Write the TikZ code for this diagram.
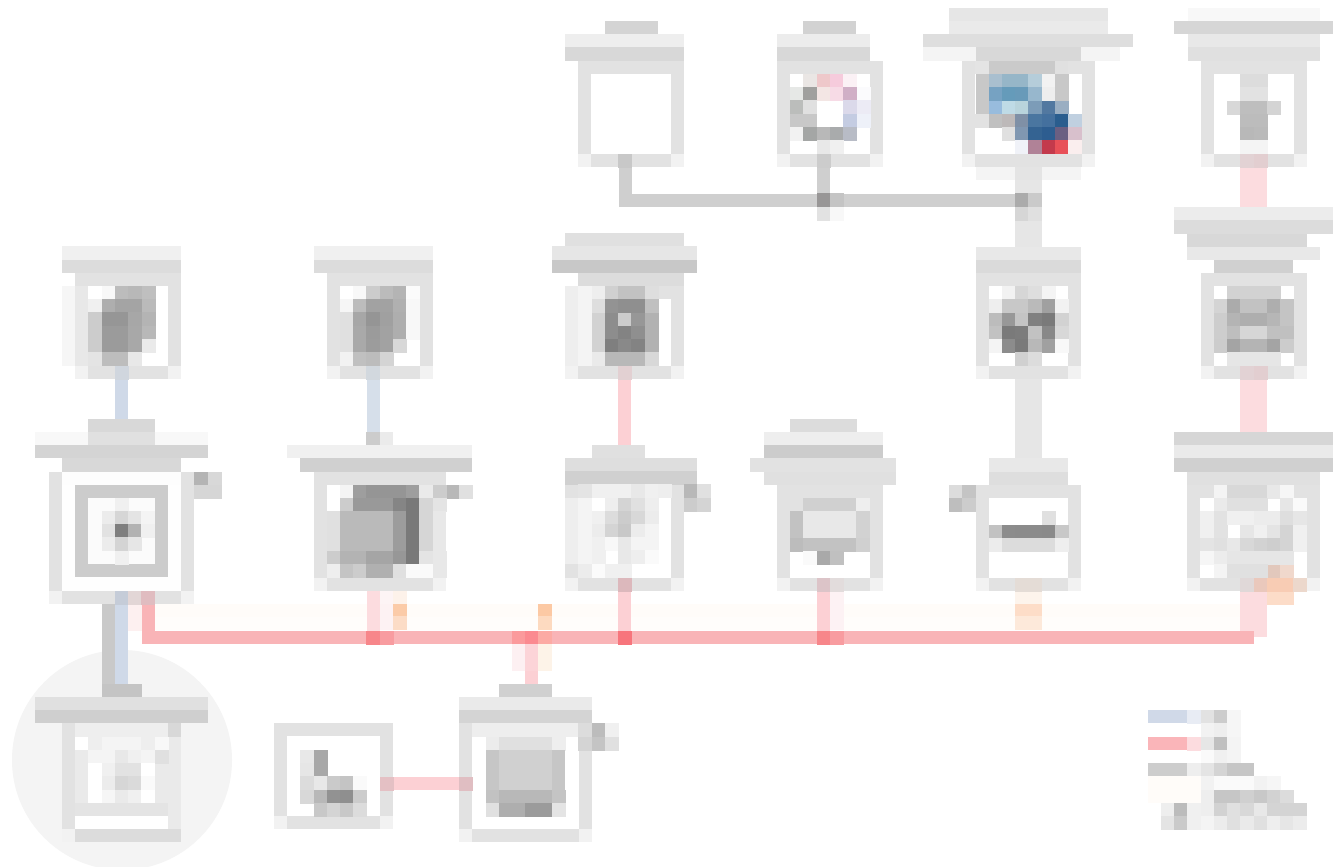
\documentclass[tikz,border=0pt]{standalone}
\usetikzlibrary{calc}
\definecolor{cardline}{HTML}{E2E2E2}
\definecolor{busred}{HTML}{F9B4B7}
\definecolor{softred}{HTML}{FCD0D4}
\definecolor{paleRed}{HTML}{FCDCDF}
\definecolor{busgray}{HTML}{CFCFCF}
\definecolor{palegray}{HTML}{E6E6E6}
\definecolor{softblue}{HTML}{CFD9E8}
\definecolor{paleblue}{HTML}{D6DFEA}
\definecolor{cornerc}{HTML}{F2F2F2}
\tikzset{
 cardbox/.style={draw=cardline,line width=9.75pt,inner sep=0pt,fill=none,rectangle},
 wire/.style={line width=9.75pt,line join=miter},
 widewire/.style={line width=19.75pt,line join=miter},
}
\newcommand{\gb}[5]{\definecolor{tc}{HTML}{#5#5#5}\fill[tc] (#1,#2) rectangle (#3,#4);}
\newcommand{\cb}[5]{\definecolor{tc}{HTML}{#5}\fill[tc] (#1,#2) rectangle (#3,#4);}
\newcommand{\dcg}[1]{\definecolor{tc}{HTML}{#1#1#1}}
\newcommand{\dcc}[1]{\definecolor{tc}{HTML}{#1}}
\newcommand{\rw}[2]{\foreach \xx/\vv in {#2}{\edef\tmpc{\noexpand\dcg{\vv}}\tmpc\fill[tc] (\xx,#1) rectangle +(13.6,14);}}
\newcommand{\rc}[2]{\foreach \xx/\vv in {#2}{\edef\tmpc{\noexpand\dcc{\vv}}\tmpc\fill[tc] (\xx,#1) rectangle +(13.6,14);}}
\newcommand{\card}[5]{%
 \pgfmathsetmacro{\cx}{(#2+#4)/2}\pgfmathsetmacro{\cy}{(#3+#5)/2}%
 \pgfmathsetmacro{\cw}{(#4-#2-13)*0.75}\pgfmathsetmacro{\ch}{(#5-#3-13)*0.75}%
 \node[cardbox,minimum width=\cw pt,minimum height=\ch pt] (#1) at (\cx,\cy) {};
 \fill[cornerc] (#2,#5) rectangle +(13.4,-13.2);
 \fill[cornerc] (#4,#5) rectangle +(-13.4,-13.2);}
\begin{document}
\begin{tikzpicture}[x=0.75pt,y=-0.75pt]
\useasboundingbox (0,0) rectangle (1338,867);
\fill[white] (0,0) rectangle (1338,867);
% halo
\fill[black!4.5] (122,760) circle (110);
% faint band
\cb{155}{604}{1240}{617}{FFFCF9}
\cb{155}{617}{1240}{630}{FFFDFB}
% cards
\card{Aa}{578}{61}{684}{167}
\card{Ab}{777}{61}{883}{167}
\card{Ac}{962}{61}{1095}{167}
\card{Ad}{1201}{61}{1307}{167}
\card{Ba}{75}{273}{181}{379}
\card{Bb}{327}{273}{433}{379}
\card{Bc}{565}{286}{684}{379}
\card{Bd}{976}{273}{1081}{379}
\card{Be}{1201}{273}{1307}{379}
\card{Ca}{49}{472}{194}{604}
\card{Cb}{314}{472}{446}{591}
\card{Cc}{565}{485}{684}{591}
\card{Cd}{777}{485}{883}{591}
\card{Ce}{976}{485}{1081}{591}
\card{Cf}{1187}{485}{1320}{591}
\card{Da}{62}{723}{194}{842}
\card{Db}{274}{723}{393}{829}
\card{Dc}{459}{723}{592}{842}
% wire coordinates
\coordinate (gA) at (625,200);
\coordinate (gB) at (823.5,200);
\coordinate (gC) at (1028.5,200);
\coordinate (gE) at (1042,200);
\coordinate (rA) at (148.5,637);
\coordinate (rB) at (373,637);
\coordinate (rC) at (531.5,637);
\coordinate (rD) at (624.5,637);
\coordinate (rE) at (823.5,637);
\coordinate (rG) at (1254,637);
\coordinate (uA) at (121.5,400);
\coordinate (uB) at (373,400);
\coordinate (uC) at (108.5,650);
\coordinate (vA) at (1253.5,400);
\coordinate (dY) at (420,783);
% wires
\draw[wire,draw=softblue] (Ba.south -| uA) -- (Ca.north -| uA);
\draw[wire,draw=paleblue] (Bb.south -| uB) -- (Cb.north -| uB);
\draw[wire,draw=softred] (Bc.south -| rD) -- (Cc.north -| rD);
\draw[widewire,draw=paleRed] (Ad.south -| vA) -- (Be.north -| vA);
\draw[widewire,draw=paleRed] (Be.south -| vA) -- (Cf.north -| vA);
\draw[widewire,draw=palegray] (Ac.south -| gC) -- (Bd.north -| gC);
\draw[widewire,draw=palegray] (Bd.south -| gC) -- (Ce.north -| gC);
\draw[wire,draw=busgray] (Aa.south -| gA) -- (gA) -- (gE);
\draw[wire,draw=busgray] (Ab.south -| gB) -- (gB);
\draw[wire,draw=softblue] (Ca.south -| uA) -- (Da.north -| uA);
\draw[wire,draw=black!21] (Ca.south -| uC) -- (Da.north -| uC);
\draw[wire,draw=softred] (Db.east |- dY) -- (Dc.west |- dY);
\draw[wire,draw=paleRed] (Cb.south -| rB) -- (rB);
\draw[wire,draw=softred] (Cc.south -| rD) -- (rD);
\draw[wire,draw=softred] (Cd.south -| rE) -- (rE);
\draw[widewire,draw=paleRed] (Cf.south -| vA) -- (vA |- rG);
\draw[wire,draw=softred] (rC) -- (Dc.north -| rC);
\draw[wire,draw=busred] (Ca.south -| rA) -- (rA) -- (rG);
% wire shading cells
\rc{604}{128/FDF0F0}\rc{617}{128/FDF0F0}
\rc{591}{115/C5CCD8,128/E2D6D6,141/E0BCC0}
\rc{591}{380/FDF4F5}\rc{604}{380/FDF2F3}\rc{616}{380/FDF2F3}
\rc{591}{393/FDF2EA}\rc{604}{393/FBCBA8}\rc{616}{393/FCDCC6}
\rc{631}{366/F7868A,380/F89CA0,512/FB9A9C,525/FB8A90,538/FCAAA4,618/F7757C,817/F7868A,830/F89CA0}
\rc{644}{512/FDF0F2,525/FCD4D8,538/FDF3E8}\rc{657}{512/FDF0F2,525/FCD4D8,538/FDF3E8}
\rc{604}{538/FCC9A4}\rc{616}{538/FDDAC0}
\rc{591}{830/FDF2F4}\rc{604}{830/FDF2F4}\rc{616}{830/FDF2F4}
\rc{591}{1015/FDF4EC,1028/FDF4EC}\rc{604}{1015/FDDDC8,1028/FDDDC8}\rc{616}{1015/FDE9DA,1028/FDE9DA}
\rc{578}{1015/E4DCD6,1028/E4DCD6}
\rc{591}{1267/FCDCC8,1280/FCDCC8}
\rc{578}{1240/E0D8D8,1254/EAC8BC,1267/F8CCB4,1280/F8CCB4,1293/ECD8CC}
\rc{564}{1267/E2C8BC,1280/F0D8CC}
\rc{193}{817/989696,830/C4C4C4,1015/ABABAB,1028/CACACA}
\rw{207}{817/E2,830/F8,1015/D6,1028/E0}
\rw{154}{618/C8,817/CC}
\rc{154}{1240/E2D2D4,1254/E2CED0}
\rc{366}{115/D0D6DE,366/D2D8DE,618/E2D0D2,1240/E2D2D4,1254/E2CED0}
\rc{578}{618/DCB8BC,817/DCC4C8,830/E2DCDC}
\rc{777}{380/E4C0C4,459/E0BEC2}
% --- titles
\gb{605}{21}{658}{34}{D4}\gb{565}{34}{684}{47}{EE}\gb{565}{47}{684}{61}{D8}\gb{592}{61}{671}{74}{E2}
\gb{803}{21}{856}{34}{D2}\gb{777}{34}{870}{47}{EC}\gb{777}{47}{870}{61}{D8}
\gb{949}{8}{1108}{21}{E6}\gb{949}{21}{1108}{34}{EA}\gb{923}{34}{1133}{47}{DE}\gb{923}{47}{1120}{61}{F4}\gb{976}{47}{1081}{61}{D8}
\gb{1188}{8}{1320}{21}{F8}\gb{1174}{21}{1333}{34}{D6}\gb{1188}{34}{1320}{47}{E8}\gb{1188}{47}{1320}{61}{E0}
\gb{62}{246}{181}{260}{F0}\gb{62}{260}{181}{273}{DC}
\gb{314}{246}{433}{260}{F0}\gb{314}{260}{433}{273}{DC}
\gb{565}{233}{684}{246}{E0}\gb{552}{246}{697}{260}{E6}\gb{552}{260}{697}{273}{C8}\gb{578}{273}{684}{286}{DC}
\gb{976}{247}{1081}{260}{E8}\gb{976}{260}{1081}{273}{DA}
\gb{1174}{207}{1333}{220}{EC}\gb{1174}{220}{1333}{234}{DC}\gb{1187}{234}{1307}{247}{D8}\gb{1187}{247}{1320}{260}{E8}\gb{1214}{260}{1293}{273}{D0}
\gb{88}{419}{155}{432}{D8}\gb{35}{432}{208}{445}{F8}\gb{88}{432}{155}{445}{E0}\gb{35}{445}{208}{458}{D4}\gb{62}{458}{181}{472}{D8}
\gb{366}{432}{380}{445}{CC}\gb{380}{432}{393}{445}{EB}\gb{287}{445}{472}{458}{F0}\gb{300}{458}{472}{472}{D0}
\gb{592}{445}{645}{458}{E0}\gb{565}{458}{697}{471}{DE}\gb{565}{471}{697}{485}{D0}
\gb{790}{419}{857}{432}{DC}\gb{764}{432}{883}{445}{EE}\gb{764}{445}{883}{458}{CC}\gb{750}{458}{896}{472}{E2}\gb{764}{472}{896}{485}{E0}
\gb{989}{458}{1068}{472}{E8}\gb{989}{472}{1068}{485}{DE}
\gb{1174}{432}{1333}{445}{D6}\gb{1174}{445}{1333}{458}{EA}\gb{1174}{458}{1333}{472}{D0}\gb{1187}{472}{1320}{485}{E0}
\gb{102}{684}{142}{697}{C4}\gb{35}{697}{208}{710}{E0}\gb{35}{710}{208}{723}{CF}
\gb{499}{684}{552}{697}{D0}\gb{459}{697}{592}{710}{EA}\gb{459}{710}{592}{723}{D4}
% --- badges
\rw{472}{194/B4,208/D8}\rw{485}{194/D6,208/D6}
\rw{485}{446/B8,459/E0}
\rw{484}{684/B8,697/E0}\rw{498}{684/CC,697/D4}
\rw{485}{949/DC,962/C4}\rw{498}{949/BE,962/CC}
\rw{723}{592/BC,605/F0}\rw{737}{578/D4,592/C4,605/E0}\rw{723}{578/DC}
% --- card Ab content
\rc{74}{803/EAE6E4,817/EEC8CA,830/F6CBDC,843/FBF1F5}
\rc{87}{790/E6E8E6,803/A0A09E,817/F3E6E4,830/F7DBE6,843/D0AFC6,857/FBFBFD}
\rc{100}{790/BBBDBB,803/E0E0E0,843/DBD9EA,857/ECEBF5}
\rc{114}{790/C8C8C8,803/C8C8C8,843/C4CCE2,857/EEF1F9}
\rc{127}{790/F2F2F2,803/A4A6A5,817/B8B8B8,830/A9ABAC,843/B8BCC6}
\rc{140}{817/E8E8E8,830/F0F0F0}
% --- card Ac content
\gb{975}{61}{989}{74}{E4}\gb{989}{61}{1055}{74}{CA}\gb{1055}{61}{1068}{74}{E0}
\rc{74}{976/C8C8C8,989/A9BFCF,1002/96B6C8,1015/96B6C8,1028/B5CDDA,1042/F2F2F2,1055/C8C8C8}
\rc{87}{976/C8C8C8,989/76A2C2,1002/659BBA,1015/689AB9,1028/97B7CD,1042/EEEEEE,1055/C8C8C8}
\rc{101}{976/C8C8C8,989/98BCDD,1002/BFDBE6,1015/B9D4DC,1028/7C9CB8,1042/5278A0,1055/9AAEC2}
\rc{114}{975/E2E2E2,989/C0C0C0,1002/BDB9B9,1015/7F90A6,1028/4A76A0,1042/44709E,1055/2A5D8E,1068/C0D0E0}
\rc{127}{1002/E0E0E0,1015/8097B1,1028/346392,1042/2D5D90,1055/6A5F82,1068/D8C0CC}
\rc{140}{1015/F0F2F8,1028/B08297,1042/C33A4C,1055/E85058,1068/FAEEEE}
\gb{976}{167}{1081}{180}{F4}\gb{1015}{167}{1042}{180}{E4}
% --- card Ad content
\rw{74}{1240/DC,1254/DC}\rw{87}{1240/E2,1254/E2}
\rw{101}{1227/D8,1240/BE,1254/BE,1267/D4}\rw{114}{1240/BC,1254/BC}\rw{127}{1240/B8,1254/BA}\rw{140}{1240/F4,1254/F4}
% --- card Be content
\rw{286}{1227/D2,1240/D2,1254/D2,1267/D2}
\rw{299}{1214/D4,1227/AB,1240/C2,1254/C2,1267/AE,1280/C4}
\rw{313}{1214/CD,1227/B4,1240/AE,1254/AE,1267/B6,1280/C4}
\rw{326}{1214/CD,1227/BE,1240/D6,1254/D6,1267/C0,1280/C0}
\rw{339}{1214/CC,1227/A4,1240/B4,1254/B4,1267/A4,1280/CC}
\rw{352}{1227/E6,1240/E6,1254/E6,1267/E6}
% --- card Bd content
\rw{286}{1002/F2,1015/D6,1028/DE,1042/F4}
\rw{299}{989/EE,1002/C8,1015/C8,1028/BA,1042/A0,1055/F2}
\rw{313}{989/BC,1002/98,1015/C4,1028/80,1042/7A,1055/D2}
\rw{326}{989/C2,1002/7A,1015/7C,1028/C2,1042/88,1055/D8}
\rw{339}{989/F4,1002/8C,1015/7A,1028/B8,1042/A0,1055/F8}
\rw{352}{1015/D0,1028/DC}
% --- card Ba content
\gb{62}{286}{75}{366}{F6}\gb{75}{286}{88}{366}{E8}
\rw{286}{102/F8,115/BC,128/B8,142/BF}
\rw{299}{88/F0,102/AE,115/A4,128/A4,142/BA}
\rw{312}{88/CC,102/96,115/96,128/A7,142/B4}
\rw{326}{88/CC,102/9B,115/9B,128/A8,142/B8}
\rw{339}{88/CC,102/9B,115/9B,128/A8,142/EA}
\rw{352}{88/E4,102/BD,115/BD,128/E8}
% --- card Bb content
\rw{286}{353/F8,366/CC,380/BB,393/B4,406/FB}
\rw{299}{340/F6,353/BC,366/A2,380/A2,393/B0,406/F8}
\rw{312}{340/E0,353/A7,366/95,380/A0,393/AE,406/F8}
\rw{326}{340/E0,353/A9,366/9B,380/A2,393/AE,406/F8}
\rw{339}{340/E0,353/A9,366/9C,380/A2,393/D8}
\rw{352}{340/F2,353/C0,366/BC,380/D4}
% --- card Bc content
\gb{565}{286}{578}{366}{EE}\gb{578}{286}{592}{366}{F4}
\rw{286}{592/EE,605/D0,618/C2,631/C2,645/DE}
\rw{299}{592/DE,605/93,618/8F,631/8F,645/C0}
\rw{313}{592/D2,605/8D,618/CC,631/97,645/B2}
\rw{326}{592/D2,605/8D,618/83,631/8F,645/B2}
\rw{339}{592/D2,605/7F,618/89,631/83,645/B2}
\rw{352}{592/EA,605/B8,618/B8,631/B8,645/D8}
% --- card Ca content
\gb{62}{472}{181}{485}{FD}\gb{62}{485}{181}{591}{FE}
\gb{75}{485}{168}{577}{CC}\gb{88}{498}{155}{564}{FB}
\rw{498}{115/F0}
\rw{511}{102/EC,115/D6,128/E4,141/F4}
\rw{524}{102/E2,115/7F,128/B2,141/F0}
\rw{537}{102/EC,115/D4,128/E6}
\rw{551}{115/F0}
% --- card Cb content
\rw{485}{340/F4,353/9E,366/95,380/95,393/95,406/9E,419/EA,433/CC}
\rw{498}{340/CC,353/99,366/99,380/99,393/85,406/79,419/D6,433/E4}
\gb{327}{511}{340}{551}{E0}\gb{340}{511}{393}{551}{BA}\gb{393}{511}{406}{551}{9C}\gb{406}{511}{419}{551}{79}\gb{419}{511}{433}{551}{D6}\gb{433}{511}{446}{551}{E8}
\rw{551}{327/CC,340/B3,353/B3,366/A5,380/A5,393/97,406/79,419/E4,433/E8}
\rw{564}{327/EE,340/C4,353/CC,366/B0,380/B0,393/E0,406/FA,419/FA,433/E8}
% --- card Cc content
\gb{565}{498}{578}{564}{EE}\gb{578}{498}{592}{564}{F4}
\rw{484}{578/E4,592/F0,605/F0,618/F0,631/E8,645/F0,658/EE}
\rw{498}{605/EE,618/D4,631/E0,645/EE}
\rw{511}{592/F0,605/DC,618/CC,631/D8,645/EC}
\rw{524}{592/EC,605/D4,618/C8,631/EC,645/F4}
\rw{537}{592/F0,605/F8,618/E8,631/F4,645/F4}
\rw{550}{592/F0,618/E8,631/EE,645/FA}
\rw{564}{578/EC,592/FB,605/F0,618/F0}
% --- card Cd content
\rw{498}{790/E2,803/D0,817/D0,830/D0,843/D0,856/EE}
\gb{790}{511}{803}{538}{C2}\gb{803}{511}{856}{538}{E8}\gb{856}{511}{870}{538}{D2}
\rw{538}{790/BC,803/C2,817/C2,830/C2,843/C2,856/D0}
\rw{551}{803/FA,817/A9,830/C0}
% --- card Ce content
\rw{511}{1042/E0}
\rw{525}{989/C2,1002/8C,1015/8B,1028/8B,1042/8A,1055/C8}
\rw{538}{989/EC,1002/DC,1015/DC,1028/DC,1042/DC,1055/EE}
% --- card Cf content
\rw{485}{1214/F4,1227/D8,1240/D8,1254/D8,1267/E8,1280/F6}
\rw{498}{1214/EA,1227/E0,1240/E0,1254/E0,1280/E6,1293/FA}
\rw{511}{1200/F0,1214/E2,1227/F0,1240/F0,1254/EC,1267/EC,1280/DE,1293/E6}
\rw{525}{1200/F0,1214/E2,1240/E6,1254/F0,1267/E4,1280/D4,1293/F0}
\rw{538}{1200/E4,1214/E0,1227/E8,1240/D8,1254/D2,1267/CE,1280/D4,1293/F0}
\rw{551}{1200/F6,1214/EC,1227/E6,1240/E6,1254/E6,1267/E6,1280/E6}
\rw{564}{1214/F4,1227/E0,1240/E0,1254/E0}
% --- card Da content
\gb{75}{723}{168}{737}{EE}\gb{168}{723}{181}{737}{D8}
\gb{75}{737}{168}{829}{EA}\gb{168}{737}{194}{829}{EA}
\gb{181}{723}{194}{842}{F4}
\gb{75}{737}{88}{750}{FF}
\rw{737}{88/EE,102/F4,115/F4,128/F4,141/EE,155/F8}
\rw{750}{88/F4,102/F4,115/E8,128/F0,141/F4,155/E0}
\rw{763}{88/FF,102/F0,115/E2,128/E2,141/FF}
\rw{776}{88/FF,102/EC,115/D6,128/DA,141/FA}
\rw{790}{88/FF,102/F6,115/EA,128/F0,141/FF}
\gb{75}{803}{168}{816}{E4}
\gb{75}{816}{168}{829}{FF}
\gb{75}{829}{181}{842}{DC}
% --- card Db content
\rw{750}{300/E8,314/A8}\rw{763}{300/E6,314/A8}
\rw{776}{300/DC,314/E8,327/CA,340/C4,353/FA}
\rw{790}{300/D8,314/B8,327/92,340/8F,353/CC}
\rw{803}{314/C8,327/D4,340/C8,353/DC}
% --- card Dc content
\gb{472}{723}{578}{737}{EE}
\rw{737}{486/EC,499/E0,512/E0,525/E0,538/E0,552/EE}
\gb{486}{750}{499}{790}{C6}\gb{499}{750}{552}{790}{D0}\gb{552}{750}{565}{790}{C6}
\rw{790}{486/C2,499/B8,512/B8,525/B8,538/B8,552/C4}
\rw{803}{486/E0,499/AE,512/AE,525/9B,538/9B,552/E4}
% --- legend
\cb{1148}{710}{1187}{723}{D0D9E8}\rc{710}{1187/E8ECF4}\rw{710}{1201/E2,1214/CC,1227/F6}\rw{723}{1201/F2,1214/EE,1227/F6}
\cb{1148}{737}{1187}{750}{FAB5B9}\rc{737}{1187/FCDCDF}\rw{737}{1201/E6,1214/C0,1227/F4}\rw{750}{1201/FA,1214/F0,1227/F4}
\gb{1148}{763}{1187}{776}{CD}\rw{763}{1187/EE,1201/E4,1214/D4,1227/C6,1240/C6}
\cb{1148}{776}{1201}{803}{FFFCF9}\rw{776}{1201/F2,1214/FA,1227/FA,1240/FA,1254/F2,1267/F6}
\rw{790}{1201/EE,1214/C6,1227/C6,1240/D0,1254/C8,1267/D2,1280/DC}
\rw{803}{1161/EE,1174/BC,1187/F0,1201/EE,1214/D2,1227/E0,1240/D8,1254/E8,1267/D4,1280/D4,1293/D4}
\rw{816}{1161/E4,1174/CA,1187/F0,1201/F4,1214/EC,1227/E0,1240/EA,1254/E0,1267/EE,1280/E6,1293/EC}
\end{tikzpicture}
\end{document}
